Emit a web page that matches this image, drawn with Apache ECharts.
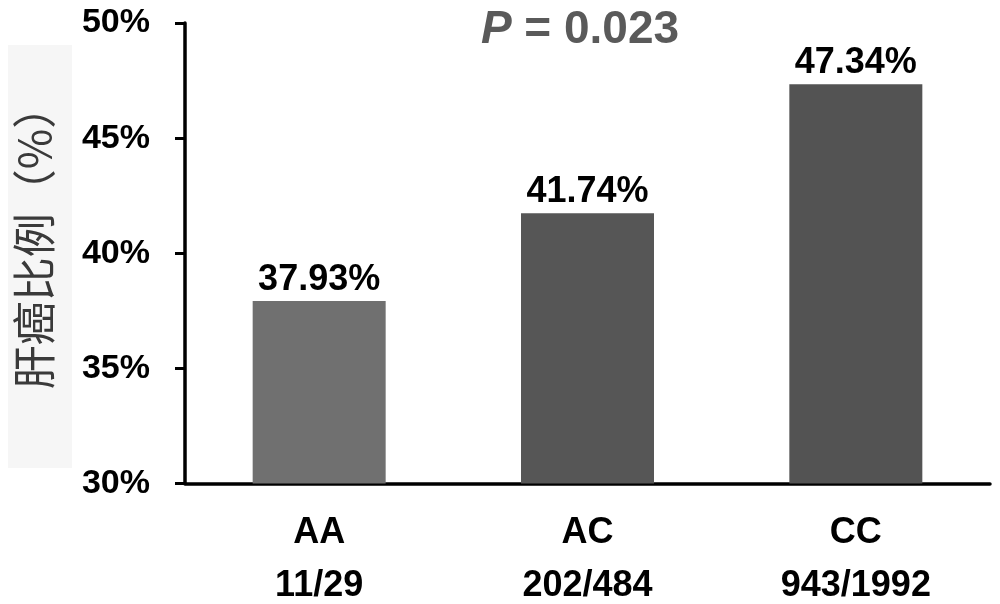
<!DOCTYPE html>
<html>
<head>
<meta charset="utf-8">
<script src="https://cdn.jsdelivr.net/npm/echarts@6/dist/echarts.min.js"></script>
<style>
html,body{margin:0;padding:0;background:#fff;}
#main{width:1000px;height:604px;}
</style>
</head>
<body>
<div id="main"></div>
<script>
var categories = ['AA', 'AC', 'CC'];
var counts = ['11/29', '202/484', '943/1992'];
var values = [37.93, 41.74, 47.34];
var barColors = ['#707070', '#565656', '#535353'];
var yTicks = [30, 35, 40, 45, 50];
var pText = '0.023';

var chart = echarts.init(document.getElementById('main'));
var font = '"Liberation Sans", Arial, sans-serif';
chart.setOption({
  backgroundColor: '#fff',
  animation: false,
  grid: { left: 185, right: 10, top: 23, bottom: 120 },
  graphic: [
    { type: 'rect', z: -10, shape: { x: 8, y: 45, width: 64, height: 423 }, style: { fill: '#f6f6f6' } },
    {
      type: 'text',
      x: 34, y: 237, rotation: Math.PI / 2,
      style: {
        text: '肝癌比例（%）', x: 0, y: 0, align: 'center', verticalAlign: 'middle',
        font: 'normal 44px "Noto Sans CJK SC", sans-serif', fill: '#3a3a3a'
      }
    },
    {
      type: 'text', x: 580, y: 30,
      style: {
        text: '{i|P} = ' + pText, x: 0, y: 0, align: 'center', verticalAlign: 'middle',
        font: 'bold 46px ' + font, fill: '#5a5a5a',
        rich: { i: { fontStyle: 'italic', fontWeight: 'bold', fontSize: 46, fontFamily: font, fill: '#5a5a5a' } }
      }
    }
  ],
  xAxis: {
    type: 'category',
    data: categories,
    axisLine: { lineStyle: { color: '#000', width: 3.5 } },
    axisTick: { show: false },
    axisLabel: {
      margin: 23,
      formatter: function (v, i) { return '{a|' + v + '}\n{a|' + counts[i] + '}'; },
      rich: { a: { fontFamily: font, fontWeight: 'bold', fontSize: 36, color: '#000', lineHeight: 53 } }
    }
  },
  yAxis: {
    type: 'value',
    min: yTicks[0], max: yTicks[yTicks.length - 1], interval: 5,
    splitLine: { show: false },
    axisLine: { show: true, lineStyle: { color: '#000', width: 3.5 } },
    axisTick: { show: true, length: 10, lineStyle: { color: '#000', width: 3 } },
    axisLabel: {
      margin: 35, formatter: '{value}%',
      fontFamily: font, fontWeight: 'bold', fontSize: 34, color: '#000'
    }
  },
  series: [{
    type: 'bar',
    data: values.map(function (v, i) { return { value: v, itemStyle: { color: barColors[i] } }; }),
    barWidth: 133,
    label: {
      show: true, position: 'top', distance: 3,
      formatter: function (p) { return p.value.toFixed(2) + '%'; },
      fontFamily: font, fontWeight: 'bold', fontSize: 36, color: '#000'
    }
  }]
});
</script>
</body>
</html>
